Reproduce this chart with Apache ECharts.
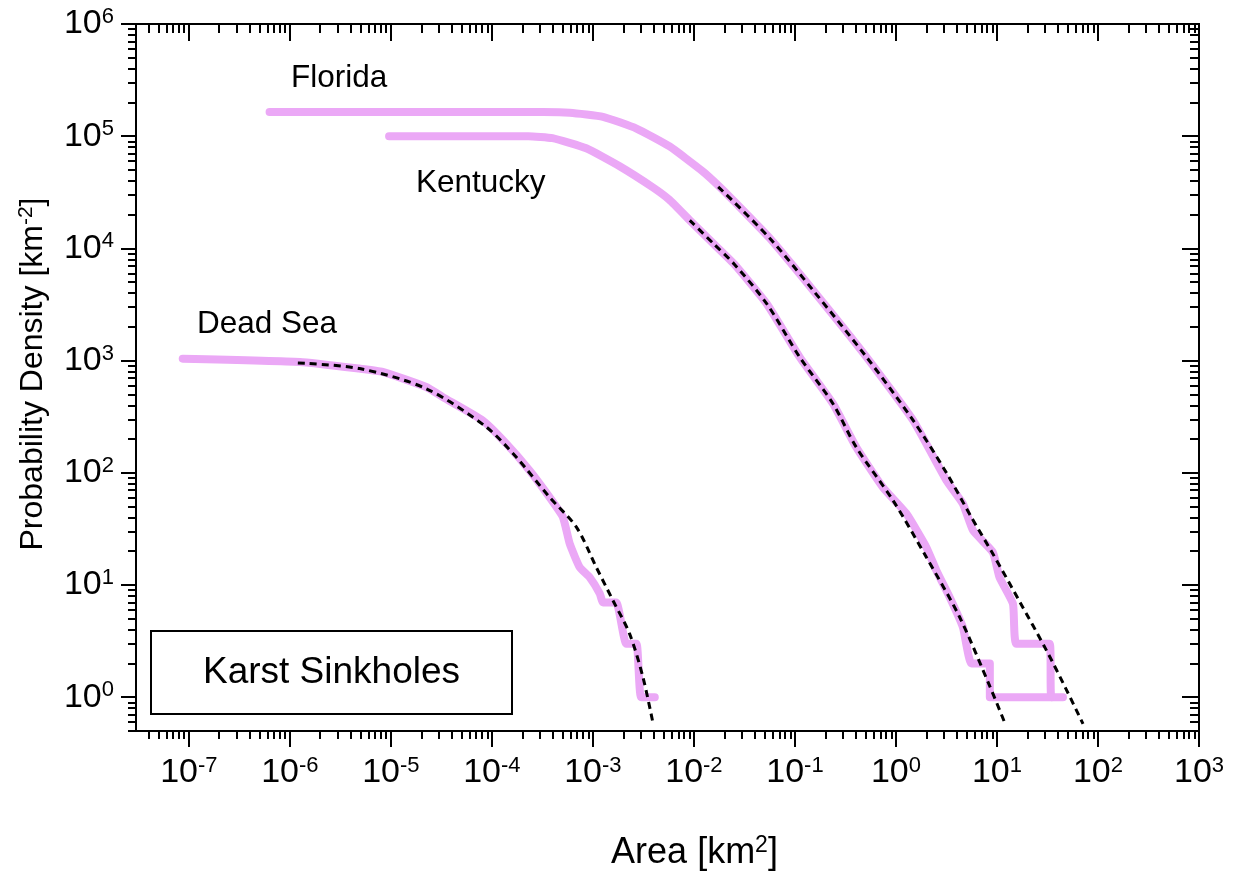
<!DOCTYPE html>
<html>
<head>
<meta charset="utf-8">
<title>Karst Sinkholes – probability density of sinkhole area</title>
<script src="https://cdn.jsdelivr.net/npm/echarts@6/dist/echarts.min.js"></script>
<style>
  html, body { margin: 0; padding: 0; background: #fff; }
  #chart { width: 1233px; height: 888px; }
</style>
</head>
<body>
<div id="chart"></div>
<script>
// Axis ranges (km^2 and km^-2)
const xRange = [3e-8, 1e3];
const yRange = [0.5, 1e6];
const xDecades = [-7, -6, -5, -4, -3, -2, -1, 0, 1, 2, 3];
const yDecades = [0, 1, 2, 3, 4, 5, 6];

// Empirical probability densities
const floridaArea    = [6.3e-7, 3.2e-4, 5.9e-4, 1.26e-3, 2.7e-3, 5.75e-3, 1.23e-2, 1.8e-2, 2.63e-2, 5.6e-2, 0.151, 0.509, 1.48, 3.16, 4.6, 5.8, 9.1, 10.6, 14.4, 15.6, 33.3, 34.6, 45];
const floridaDensity = [1.64e5, 1.64e5, 1.62e5, 1.49e5, 1.17e5, 8.1e4, 4.84e4, 3.54e4, 2.51e4, 1.24e4, 4240, 1080, 293, 85.5, 53, 30.6, 19.6, 11.7, 6.8, 3, 3, 1, 1];

const kentuckyArea    = [9.6e-6, 2.3e-4, 3.98e-4, 8.6e-4, 1.84e-3, 3.94e-3, 5.75e-3, 9.1e-3, 1.55e-2, 2.51e-2, 5.25e-2, 0.111, 0.238, 0.405, 0.74, 1.27, 2.0, 2.51, 3.4, 4.6, 5.6, 8.5, 8.5, 34.6];
const kentuckyDensity = [1.0e5, 1.0e5, 9.6e4, 7.8e4, 5.4e4, 3.49e4, 2.7e4, 1.78e4, 1.11e4, 7240, 3220, 1080, 413, 169, 74.6, 43.2, 21.7, 13.5, 7.8, 4.2, 2, 2, 1, 1];

const deadSeaArea    = [8.7e-8, 1.26e-6, 4.9e-6, 8.3e-6, 2.24e-5, 3.27e-5, 8.1e-5, 1.39e-4, 2.36e-4, 3.72e-4, 5.05e-4, 5.9e-4, 7.4e-4, 9.3e-4, 1.17e-3, 1.26e-3, 1.7e-3, 2.14e-3, 2.7e-3, 3.0e-3, 4.1e-3];
const deadSeaDensity = [1040, 973, 849, 794, 582, 473, 293, 182, 105, 60.7, 40.3, 23.3, 14.4, 11.7, 8.4, 7, 7, 3, 3, 1, 1];

// Fitted distributions
const floridaFitArea    = [1.74e-2, 5.6e-2, 0.151, 0.509, 1.48, 3.16, 5.6, 9.1, 16.8, 30.8, 48.6, 71.1];
const floridaFitDensity = [3.54e4, 1.24e4, 4240, 1080, 293, 100, 40, 19, 7.1, 2.63, 1.17, 0.578];

const kentuckyFitArea    = [9.1e-3, 1.55e-2, 2.51e-2, 5.25e-2, 0.111, 0.238, 0.405, 0.935, 2.0, 4.28, 8.47, 11.9];
const kentuckyFitDensity = [1.78e4, 1.11e4, 7240, 3220, 1080, 413, 169, 56.8, 17.7, 5.16, 1.26, 0.597];

const deadSeaFitArea    = [1.2e-6, 4.9e-6, 2.24e-5, 8.8e-5, 1.74e-4, 3.72e-4, 6.87e-4, 1.08e-3, 1.58e-3, 2.31e-3, 3.13e-3, 3.98e-3];
const deadSeaFitDensity = [953, 849, 562, 256, 138, 60.7, 32.8, 14.4, 7.28, 3.67, 1.51, 0.558];

const LOG = Math.log10;
const toPoints = (xs, ys) => xs.map((x, i) => [LOG(x), LOG(ys[i])]);

// Minor ticks at 2..9 × 10^n, in log10 units
function minorTicks(lo, hi) {
  const out = [];
  for (let n = Math.floor(lo) - 1; n <= Math.ceil(hi); n++) {
    for (let k = 2; k <= 9; k++) {
      const v = n + LOG(k);
      if (v > lo && v < hi) out.push(v);
    }
  }
  return out;
}

const FONT = 'Liberation Sans, Arial, sans-serif';
const PINK = '#eba8f6';
const xMin = LOG(xRange[0]), xMax = LOG(xRange[1]);
const yMin = LOG(yRange[0]), yMax = LOG(yRange[1]);

const tickRich = {
  b: { fontSize: 34, fontFamily: FONT, color: '#000', lineHeight: 36 },
  s: { fontSize: 22, fontFamily: FONT, color: '#000', verticalAlign: 'top', lineHeight: 22 }
};
const powerLabel = v => '{b|10}{s|' + Math.round(v) + '}';

const lineBase = { show: true, onZero: false, lineStyle: { color: '#000', width: 2 } };

function axisX(gridIndex, position, ticks, len, inside, withLabels, extra) {
  return Object.assign({
    type: 'value', gridIndex, position, min: xMin, max: xMax,
    axisLine: lineBase,
    axisTick: { show: true, inside, length: len, customValues: ticks, lineStyle: { color: '#000', width: 2 } },
    axisLabel: withLabels
      ? { show: true, customValues: xDecades, margin: 24, formatter: powerLabel, rich: tickRich }
      : { show: false },
    splitLine: { show: false }
  }, extra || {});
}
function axisY(gridIndex, position, ticks, len, inside, withLabels, extra) {
  return Object.assign({
    type: 'value', gridIndex, position, min: yMin, max: yMax,
    axisLine: lineBase,
    axisTick: { show: true, inside, length: len, customValues: ticks, lineStyle: { color: '#000', width: 2 } },
    axisLabel: withLabels
      ? { show: true, customValues: yDecades, margin: 22, formatter: powerLabel, rich: tickRich }
      : { show: false },
    splitLine: { show: false }
  }, extra || {});
}

const xMinor = minorTicks(xMin, xMax);
const yMinor = minorTicks(yMin, yMax);
const gridRect = { left: 136, right: 34, top: 24, bottom: 157, outerBoundsMode: 'none' };

const nameRich = (size, supSize) => ({
  t: { fontSize: size, fontFamily: FONT, color: '#000', lineHeight: size + 3 },
  p: { fontSize: supSize, fontFamily: FONT, color: '#000', verticalAlign: 'top', lineHeight: supSize }
});

const pinkLine = (name, pts) => ({
  name, type: 'line', xAxisIndex: 0, yAxisIndex: 0, data: pts,
  showSymbol: false, symbol: 'none', smooth: 0.15, z: 2,
  lineStyle: { color: PINK, width: 8, cap: 'round', join: 'round' }
});
const fitLine = (name, pts) => ({
  name, type: 'line', xAxisIndex: 0, yAxisIndex: 0, data: pts,
  showSymbol: false, symbol: 'none', smooth: 0.3, z: 3,
  lineStyle: { color: '#000', width: 3, type: [7, 5] }
});

const option = {
  backgroundColor: '#fff',
  animation: false,
  grid: [Object.assign({}, gridRect), Object.assign({}, gridRect)],
  xAxis: [
    axisX(0, 'bottom', xDecades, 16, false, true, {
      name: '{t|Area [km}{p|2}{t|]}', nameLocation: 'middle', nameGap: 103,
      nameTextStyle: { rich: nameRich(36, 23), padding: [0, 0, 0, 54] }
    }),
    axisX(0, 'top', xDecades, 17, true, false),
    axisX(1, 'bottom', xMinor, 8, false, false),
    axisX(1, 'top', xMinor, 9, true, false)
  ],
  yAxis: [
    axisY(0, 'left', yDecades, 15, false, true, {
      name: '{t|Probability Density [km}{p|-2}{t|]}', nameLocation: 'middle', nameGap: 85,
      nameRotate: 90,
      nameTextStyle: { rich: nameRich(32, 21), padding: [0, 0, 0, 7] }
    }),
    axisY(0, 'right', yDecades, 17, true, false),
    axisY(1, 'left', yMinor, 8, false, false),
    axisY(1, 'right', yMinor, 9, true, false)
  ],
  series: [
    pinkLine('Florida', toPoints(floridaArea, floridaDensity)),
    pinkLine('Kentucky', toPoints(kentuckyArea, kentuckyDensity)),
    pinkLine('Dead Sea', toPoints(deadSeaArea, deadSeaDensity)),
    fitLine('Florida fit', toPoints(floridaFitArea, floridaFitDensity)),
    fitLine('Kentucky fit', toPoints(kentuckyFitArea, kentuckyFitDensity)),
    fitLine('Dead Sea fit', toPoints(deadSeaFitArea, deadSeaFitDensity))
  ],
  graphic: [
    { type: 'text', left: 291, top: 62, z: 10,
      style: { text: 'Florida', font: '31.5px ' + FONT, fill: '#000' } },
    { type: 'text', left: 416, top: 167, z: 10,
      style: { text: 'Kentucky', font: '31.5px ' + FONT, fill: '#000' } },
    { type: 'text', left: 197, top: 308, z: 10,
      style: { text: 'Dead Sea', font: '31.5px ' + FONT, fill: '#000' } },
    { type: 'group', left: 150, top: 630, z: 10, children: [
      { type: 'rect', shape: { x: 0, y: 0, width: 361, height: 83 },
        style: { fill: '#fff', stroke: '#000', lineWidth: 2 } },
      { type: 'text', x: 180.5, y: 42,
        style: { text: 'Karst Sinkholes', font: '37px ' + FONT, fill: '#000', align: 'center', verticalAlign: 'middle' } }
    ] }
  ]
};

const chart = echarts.init(document.getElementById('chart'), null, { renderer: 'canvas' });
chart.setOption(option);
</script>
</body>
</html>
